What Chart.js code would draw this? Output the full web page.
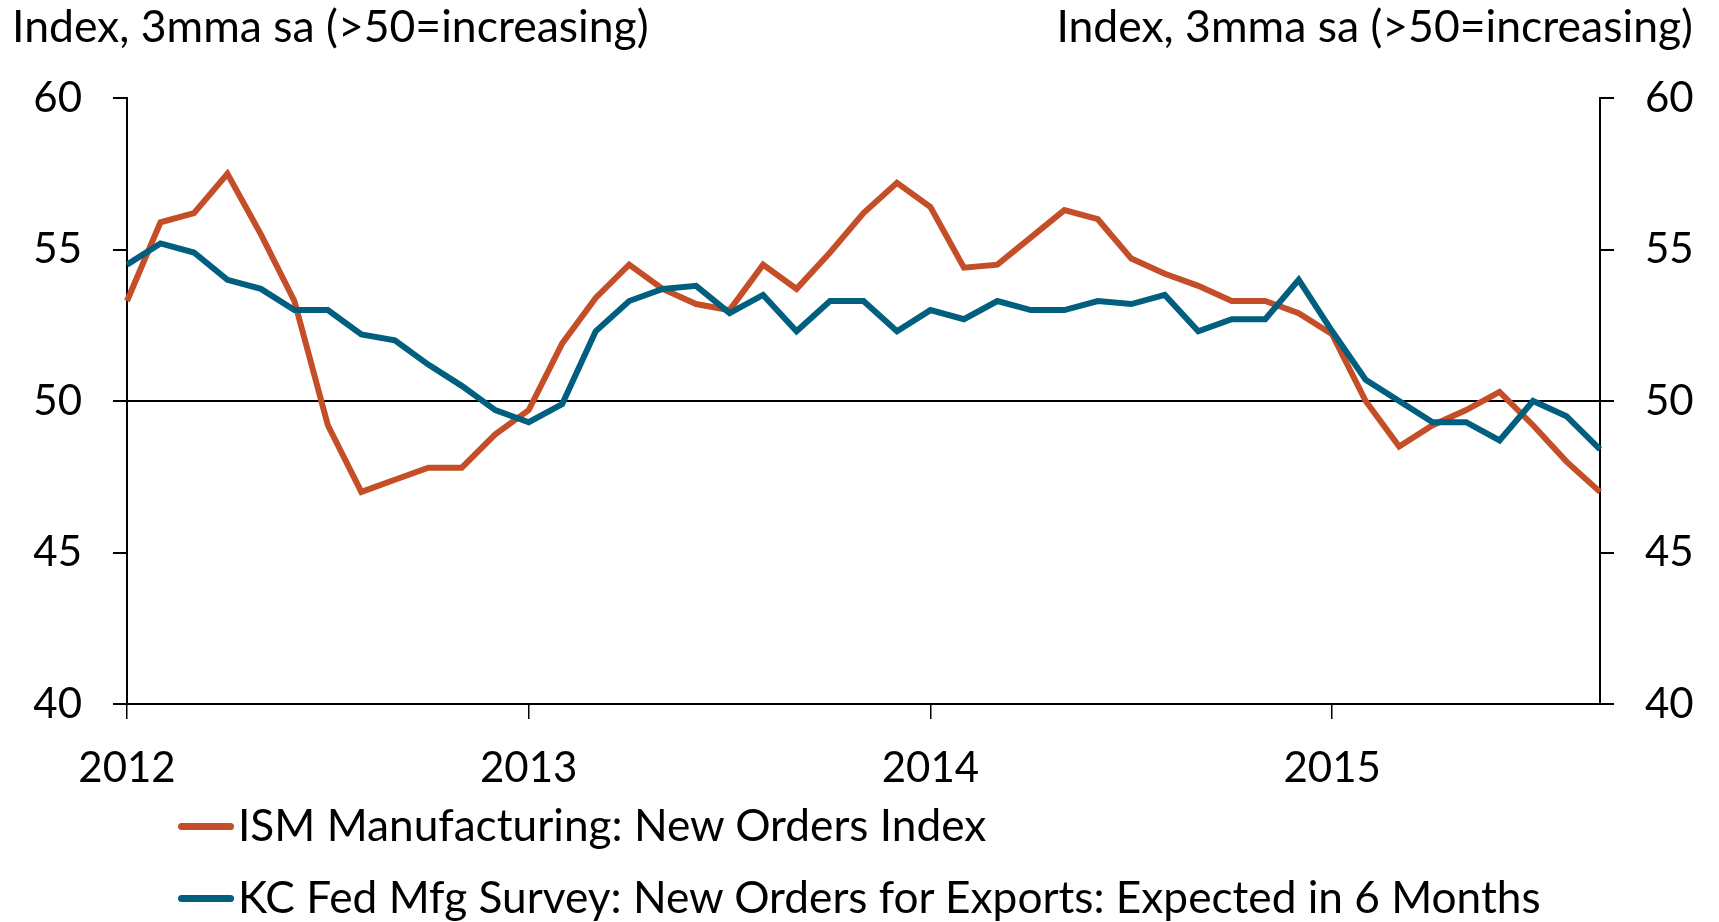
<!DOCTYPE html>
<html>
<head>
<meta charset="utf-8">
<script src="https://cdn.jsdelivr.net/npm/chart.js@4"></script>
<style>
  body { margin: 0; background: #fff; overflow: hidden; }
  .wrap { position: relative; width: 1719px; height: 922px; font-family: Lato, sans-serif; color: #000; }
  canvas { position: absolute; left: 0; top: 0; }
  .axis-title { position: absolute; top: 3px; font-size: 44.5px; line-height: 44px; white-space: nowrap; }
  .legend-row { position: absolute; left: 178px; font-size: 44.2px; line-height: 44px; white-space: nowrap; }
  .legend-row .swatch { display: inline-block; width: 56px; height: 7px; border-radius: 4px; margin-right: 4px; vertical-align: 11px; }
</style>
</head>
<body>
<div class="wrap">
  <canvas id="myChart" width="1719" height="922"></canvas>
  <div class="axis-title" style="left:12px">Index, 3mma sa (&gt;50=increasing)</div>
  <div class="axis-title" style="right:26px">Index, 3mma sa (&gt;50=increasing)</div>
  <div class="legend-row" style="top:802px"><span class="swatch" style="background:#C44E27"></span>ISM Manufacturing: New Orders Index</div>
  <div class="legend-row" style="top:874px"><span class="swatch" style="background:#005F7E"></span>KC Fed Mfg Survey: New Orders for Exports: Expected in 6 Months</div>
</div>
<script>
const months = [
  "2012-01", "2012-02", "2012-03", "2012-04", "2012-05", "2012-06", "2012-07", "2012-08", "2012-09", "2012-10", "2012-11", "2012-12",
  "2013-01", "2013-02", "2013-03", "2013-04", "2013-05", "2013-06", "2013-07", "2013-08", "2013-09", "2013-10", "2013-11", "2013-12",
  "2014-01", "2014-02", "2014-03", "2014-04", "2014-05", "2014-06", "2014-07", "2014-08", "2014-09", "2014-10", "2014-11", "2014-12",
  "2015-01", "2015-02", "2015-03", "2015-04", "2015-05", "2015-06", "2015-07", "2015-08", "2015-09"
];

const ismNewOrders = [
  53.3, 55.9, 56.2, 57.5, 55.5, 53.3, 49.2, 47.0, 47.4, 47.8, 47.8, 48.9,
  49.7, 51.9, 53.4, 54.5, 53.7, 53.2, 53.0, 54.5, 53.7, 54.9, 56.2, 57.2,
  56.4, 54.4, 54.5, 55.4, 56.3, 56.0, 54.7, 54.2, 53.8, 53.3, 53.3, 52.9,
  52.2, 50.0, 48.5, 49.2, 49.7, 50.3, 49.2, 48.0, 47.0
];

const kcExportOrders = [
  54.5, 55.2, 54.9, 54.0, 53.7, 53.0, 53.0, 52.2, 52.0, 51.2, 50.5, 49.7,
  49.3, 49.9, 52.3, 53.3, 53.7, 53.8, 52.9, 53.5, 52.3, 53.3, 53.3, 52.3,
  53.0, 52.7, 53.3, 53.0, 53.0, 53.3, 53.2, 53.5, 52.3, 52.7, 52.7, 54.0,
  52.3, 50.7, 50.0, 49.3, 49.3, 48.7, 50.0, 49.5, 48.4
];

const yTicks = [40, 45, 50, 55, 60];
const refLevel = 50;

const tickFont = { family: "Lato", size: 42 };

const ctx = document.getElementById("myChart").getContext("2d");
const myChart = new Chart(ctx, {
  type: "line",
  data: {
    labels: months,
    datasets: [
      {
        label: "ISM Manufacturing: New Orders Index",
        data: ismNewOrders,
        borderColor: "#C44E27",
        borderWidth: 6,
        pointRadius: 0,
        tension: 0,
        order: 2,
      },
      {
        label: "KC Fed Mfg Survey: New Orders for Exports: Expected in 6 Months",
        data: kcExportOrders,
        borderColor: "#005F7E",
        borderWidth: 6,
        pointRadius: 0,
        tension: 0,
        order: 1,
      },
    ],
  },
  options: {
    responsive: false,
    animation: false,
    layout: { padding: { top: 98, left: 0, right: 0, bottom: 0 } },
    plugins: {
      legend: { display: false },
      tooltip: { enabled: false },
    },
    scales: {
      x: {
        offset: false,
        border: { color: "#000", width: 2 },
        grid: {
          drawOnChartArea: false,
          tickLength: 15,
          lineWidth: 1.5,
          tickColor: (c) => (months[c.index] && months[c.index].endsWith("-01") ? "#000" : "rgba(0,0,0,0)"),
        },
        ticks: {
          autoSkip: false,
          maxRotation: 0,
          padding: 24,
          color: "#000",
          font: tickFont,
          callback: (v, i) => (months[i].endsWith("-01") ? months[i].slice(0, 4) : ""),
        },
        afterFit: (s) => { s.height = 218; },
      },
      y: {
        position: "left",
        min: 40,
        max: 60,
        afterBuildTicks: (s) => { s.ticks = yTicks.map((v) => ({ value: v })); },
        border: { color: "#000", width: 2 },
        grid: {
          tickLength: 14,
          lineWidth: 2,
          color: (c) => (c.tick && c.tick.value === refLevel ? "#000" : "rgba(0,0,0,0)"),
          tickColor: "#000",
        },
        ticks: { padding: 31, color: "#000", font: tickFont },
        afterFit: (s) => { s.width = 127; },
      },
      y2: {
        position: "right",
        min: 40,
        max: 60,
        afterBuildTicks: (s) => { s.ticks = yTicks.map((v) => ({ value: v })); },
        border: { color: "#000", width: 2 },
        grid: { drawOnChartArea: false, tickLength: 14, lineWidth: 2, tickColor: "#000" },
        ticks: { padding: 31, color: "#000", font: tickFont },
        afterFit: (s) => { s.width = 119; },
      },
    },
  },
});
</script>
</body>
</html>
